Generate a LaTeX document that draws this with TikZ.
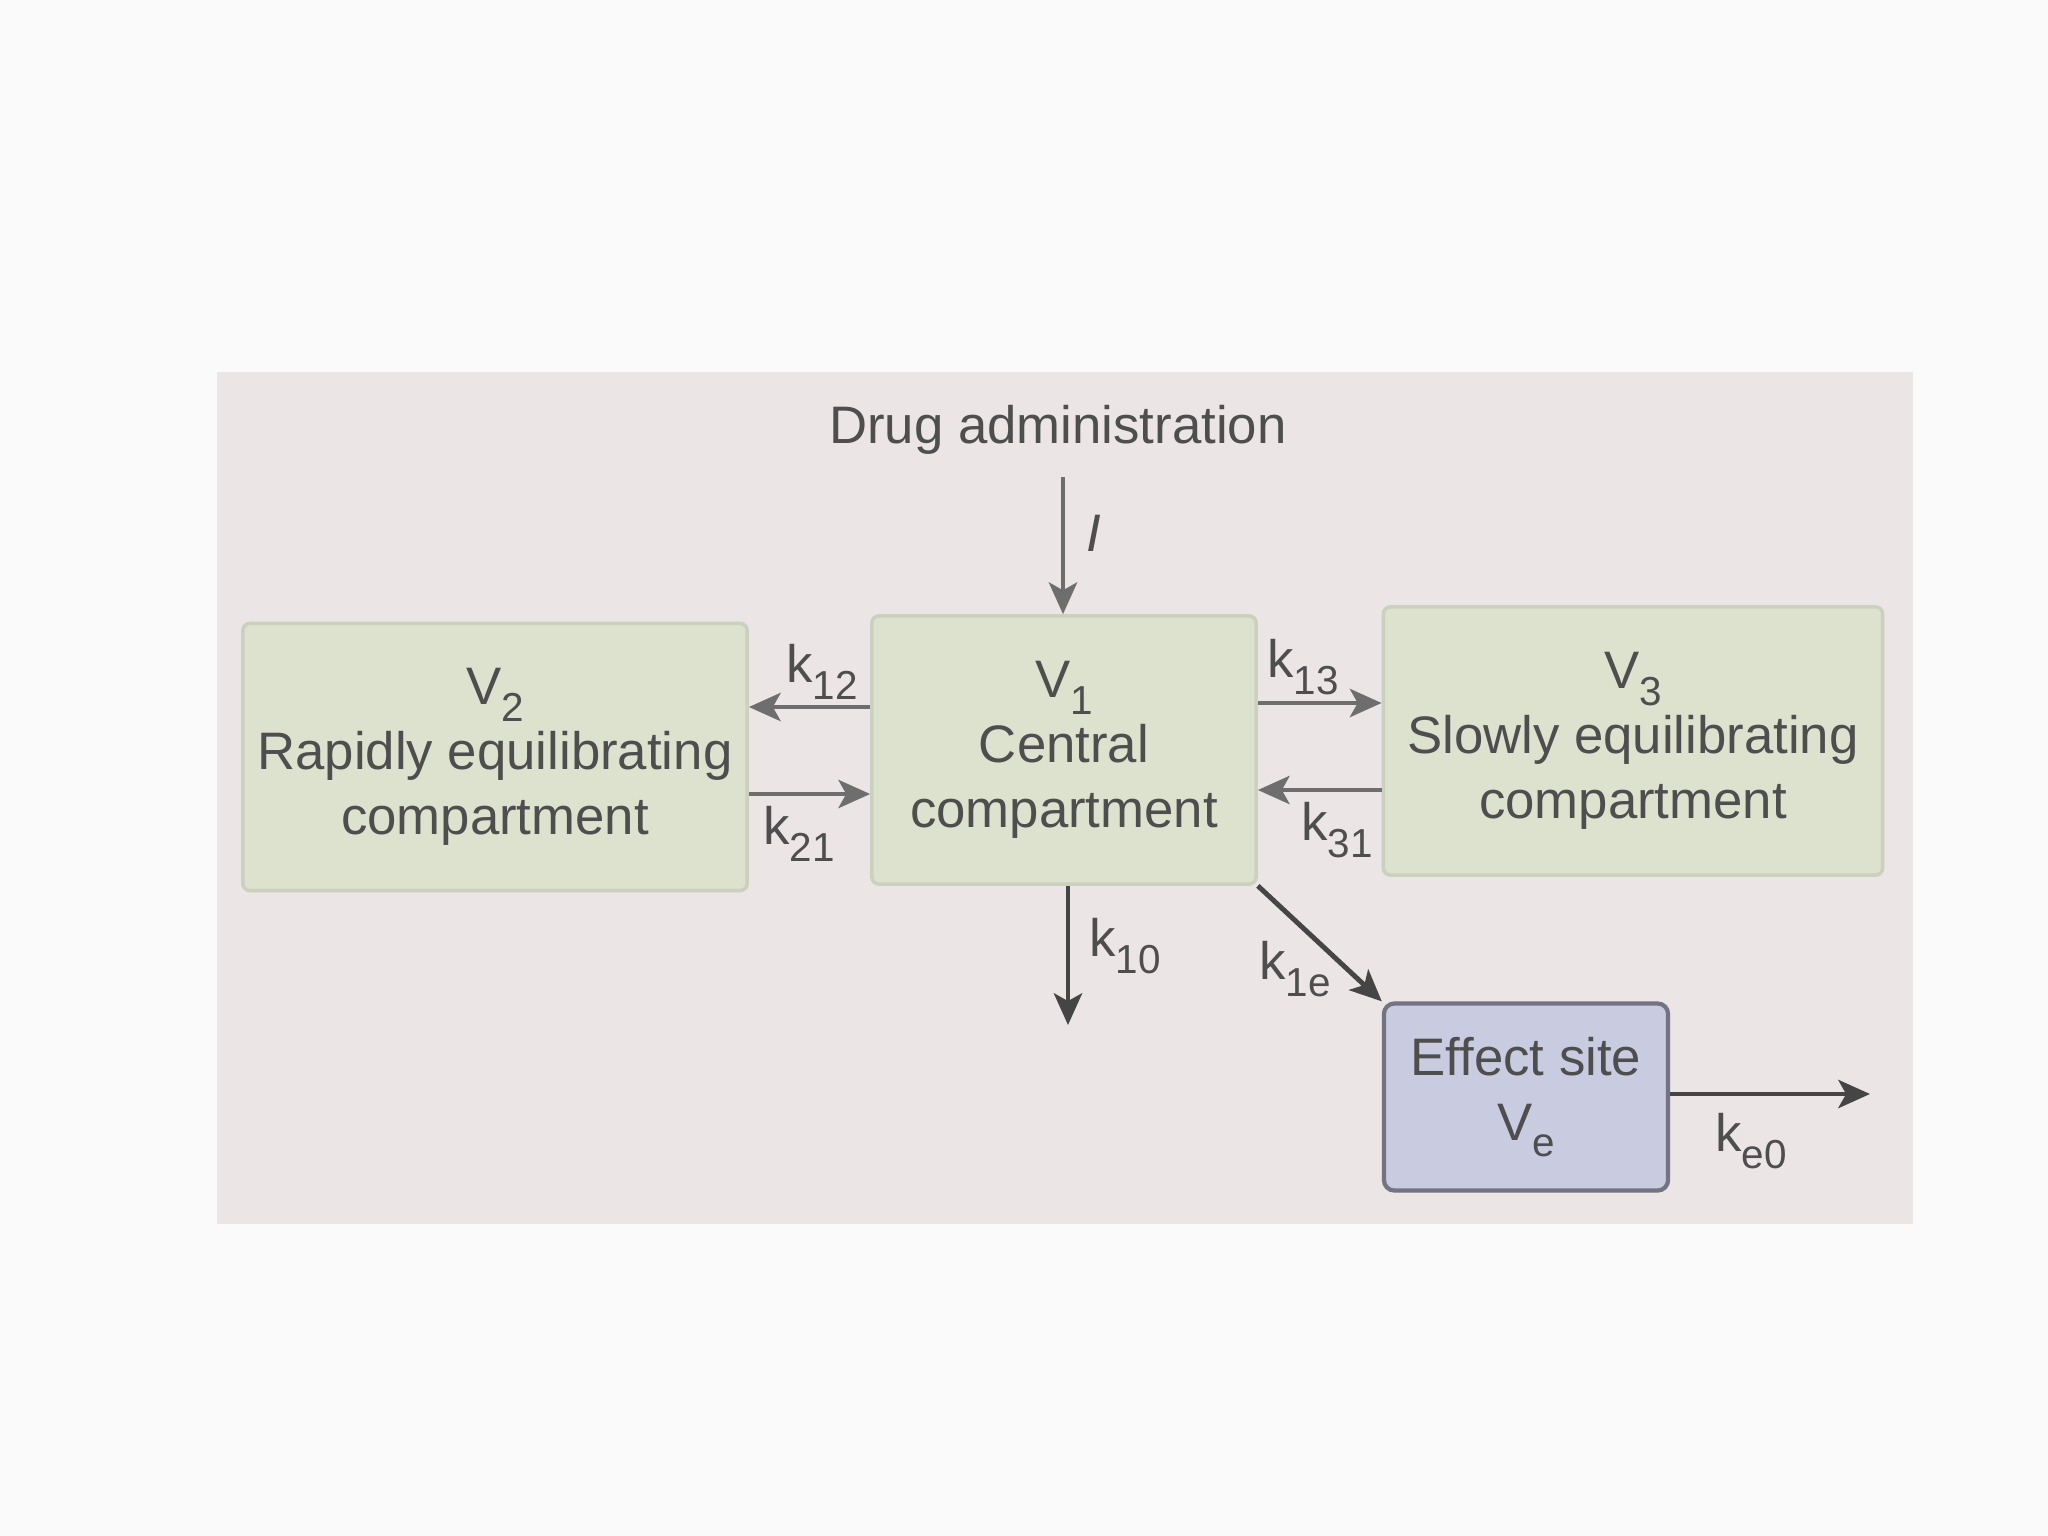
\documentclass[tikz,border=0pt]{standalone}
\usepackage{fontspec}
\setmainfont{Liberation Sans}
\usetikzlibrary{arrows.meta}
\definecolor{pagebg}{HTML}{FBFAFA}
\definecolor{photobg}{HTML}{EBE5E5}
\definecolor{boxfill}{HTML}{DDE2CE}
\definecolor{boxline}{HTML}{CBD1BC}
\definecolor{efffill}{HTML}{C9CBE0}
\definecolor{effline}{HTML}{737482}
\definecolor{txt}{HTML}{4E4E4E}
\definecolor{arrlight}{HTML}{6E6E6E}
\definecolor{arrdark}{HTML}{454545}
\newcommand\subs[1]{\raisebox{-0.6ex}{\fontsize{11.5}{12}\selectfont #1}}
\tikzset{
  compbox/.style={draw=boxline, line width=1pt, fill=boxfill, rounded corners=2pt,
    align=center, text=txt, font=\fontsize{15}{18.5}\selectfont, inner sep=2pt},
  effbox/.style={draw=effline, line width=1.2pt, fill=efffill, rounded corners=3pt,
    align=center, text=txt, font=\fontsize{15}{18.5}\selectfont, inner sep=2pt},
  flow/.style={draw=arrlight, line width=1.4pt,
    -{Stealth[length=9pt,width=8pt,inset=2.2pt]}},
  flowdark/.style={draw=arrdark, line width=1.4pt,
    -{Stealth[length=9pt,width=8pt,inset=2.2pt]}},
  ratelbl/.style={text=txt, font=\fontsize{15}{17}\selectfont, inner sep=0pt}
}
\begin{document}
\begin{tikzpicture}[x=0.01cm,y=-0.01cm]
\useasboundingbox (0,0) rectangle (2048,1536);
\fill[pagebg] (0,0) rectangle (2048,1536);
\fill[photobg] (217,372) rectangle (1913,1224);

% compartments
\node[compbox, minimum width=5.04cm, minimum height=2.67cm] (v2) at (495,757)
  {V\subs{2}\\Rapidly equilibrating\\compartment};
\node[compbox, minimum width=3.84cm, minimum height=2.68cm] (v1) at (1064,750)
  {V\subs{1}\\Central\\compartment};
\node[compbox, minimum width=4.99cm, minimum height=2.68cm] (v3) at (1633,741)
  {V\subs{3}\\Slowly equilibrating\\compartment};
\node[effbox, minimum width=2.84cm, minimum height=1.87cm] (eff) at (1526,1097)
  {Effect site\\V\subs{e}};

% drug administration
\node[text=txt, font=\fontsize{15}{17}\selectfont, inner sep=0pt] (drug) at (1058,430) {Drug administration};
\coordinate (dstart) at (1063,477);
\draw[flow] (dstart) -- (dstart |- v1.north);
\node[ratelbl, font=\fontsize{15}{17}\itshape] (ilbl) at (1094,533) {I};

% exchange arrows
\coordinate (y12) at (0,707);
\coordinate (y21) at (0,794);
\coordinate (y13) at (0,703);
\coordinate (y31) at (0,790);
\draw[flow] (v1.west |- y12) -- (v2.east |- y12);
\draw[flow] (v2.east |- y21) -- (v1.west |- y21);
\draw[flow] (v1.east |- y13) -- (v3.west |- y13);
\draw[flow] (v3.west |- y31) -- (v1.east |- y31);

% elimination
\coordinate (k10end) at (1068,1025);
\draw[flowdark] (k10end |- v1.south) -- (k10end);
\draw[flowdark] (v1.south east) -- (eff.north west);
\coordinate (keend) at (1870,1094);
\draw[flowdark] (eff.east |- keend) -- (keend);

% rate labels
\node[ratelbl] (l12) at (822,672) {k\subs{12}};
\node[ratelbl] (l21) at (799,834) {k\subs{21}};
\node[ratelbl] (l13) at (1303,667) {k\subs{13}};
\node[ratelbl] (l31) at (1337,830) {k\subs{31}};
\node[ratelbl] (l10) at (1125,946) {k\subs{10}};
\node[ratelbl] (l1e) at (1295,969) {k\subs{1e}};
\node[ratelbl] (le0) at (1751,1141) {k\subs{e0}};
\end{tikzpicture}
\end{document}
